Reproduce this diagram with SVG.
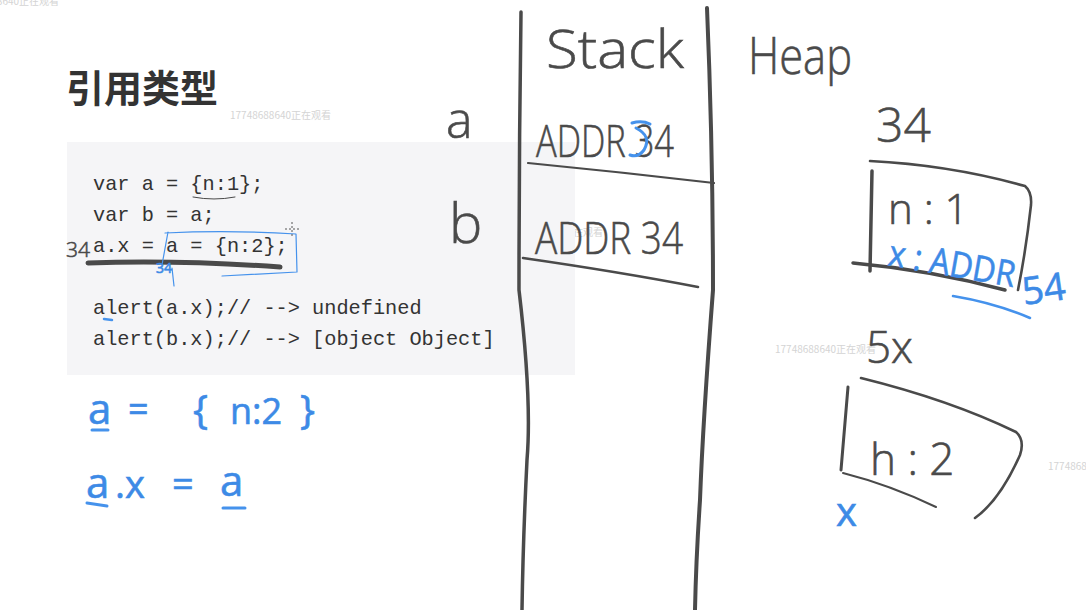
<svg xmlns="http://www.w3.org/2000/svg" width="1086" height="610" viewBox="0 0 1086 610">
<style>
.code{font-family:"Liberation Mono","DejaVu Sans Mono",monospace;font-size:20.3px;fill:#333}
.wm{font-family:"Noto Sans CJK SC","Noto Sans",sans-serif;font-size:10px;fill:#d4d4d4}
.hw{font-family:"Open Sans","Noto Sans",sans-serif;font-weight:300;fill:#4a4a4a;stroke:#4a4a4a;stroke-width:0.6}
.hb{font-family:"Open Sans","Noto Sans",sans-serif;font-weight:400;fill:#3d8ae6;stroke:#3d8ae6;stroke-width:0.6}
.ln{fill:none;stroke:#4a4a4a;stroke-linecap:round;stroke-linejoin:round}
.bl{fill:none;stroke:#4592ec;stroke-linecap:round;stroke-linejoin:round}
</style>
<rect width="1086" height="610" fill="#ffffff"/>

<g id="title">
<text x="66" y="102" font-family="Noto Sans CJK SC, sans-serif" font-size="38" font-weight="700" fill="#333">引用类型</text>
</g>

<g id="watermarks">
<text class="wm" x="-42" y="5">17748688640正在观看</text>
<text class="wm" x="230" y="119">17748688640正在观看</text>
<text class="wm" x="502" y="236">17748688640正在观看</text>
<text class="wm" x="775" y="353">17748688640正在观看</text>
<text class="wm" x="1048" y="470">17748688640正在观看</text>
</g>

<g id="code-panel">
<rect x="67" y="142" width="508" height="233" fill="#f5f5f7"/>
<text class="code" x="93" y="190">var a = {n:1};</text>
<text class="code" x="93" y="221">var b = a;</text>
<text class="code" x="93" y="252">a.x = a = {n:2};</text>
<text class="code" x="93" y="314">alert(a.x);// --&gt; undefined</text>
<text class="code" x="93" y="345">alert(b.x);// --&gt; [object Object]</text>
<path class="ln" d="M193 197 Q214 201 235 197" stroke="#888" stroke-width="1"/>
<text class="hw" x="66" y="257" font-size="21" fill="#777" stroke="#777" stroke-width="0.3">34</text>
<path class="ln" d="M88 263 Q180 260 280 267" stroke="#555" stroke-width="5"/>
<path class="bl" d="M165 233 Q230 230 296 234 L297 272 L222 276 M168 232 L162 265" stroke-width="1.2"/>
<text class="hb" x="156" y="273" font-size="14" stroke-width="0.2">34</text>
<path class="bl" d="M172 268 L174 286" stroke-width="1.2"/>
<path class="bl" d="M104 319 L112 320" stroke-width="2.5"/>
<path d="M292 222 V236 M285 229 H299" stroke="#555" stroke-width="1" stroke-dasharray="2 2"/>
</g>

<g id="stack-frame">
<path class="ln" d="M521 12 Q519 150 519 290 Q532 400 527 460 Q523 540 522 610" stroke-width="3.5"/>
<path class="ln" d="M707 8 Q713 150 713 290 Q703 420 700 500 Q696 560 695 610" stroke-width="4"/>
<path class="ln" d="M528 163 Q620 172 714 183" stroke-width="2.2"/>
<path class="ln" d="M523 258 Q620 272 698 287" stroke-width="2.6"/>
</g>

<g id="labels">
<text class="hw" x="546" y="68" font-size="54" textLength="138" lengthAdjust="spacingAndGlyphs">Stack</text>
<text class="hw" x="748" y="74" font-size="52" textLength="104" lengthAdjust="spacingAndGlyphs">Heap</text>
<text class="hw" x="446" y="138" font-size="50">a</text>
<text class="hw" x="449" y="243" font-size="56">b</text>
</g>

<g id="stack-a">
<text class="hw" x="536" y="157" font-size="44" textLength="138" lengthAdjust="spacingAndGlyphs">ADDR 34</text>
<path class="bl" d="M632 123 Q642 120 650 124 M636 128 Q652 136 644 150 Q638 158 630 155" stroke-width="3"/>
</g>

<g id="stack-b">
<text class="hw" x="535" y="254" font-size="44" textLength="148" lengthAdjust="spacingAndGlyphs">ADDR  34</text>
</g>

<g id="heap-34">
<text class="hw" x="876" y="142" font-size="48">34</text>
<path class="ln" d="M870 161 Q950 165 1025 186 Q1032 192 1031 205 Q1026 250 1018 290" stroke-width="2.6"/>
<path class="ln" d="M872 171 L870 271" stroke-width="3.5"/>
<path class="ln" d="M853 263 Q930 270 1005 290" stroke-width="3.5"/>
<text class="hw" x="888" y="224" font-size="42">n : 1</text>
<g transform="rotate(10 950 265)">
<text class="hb" x="888" y="276" font-size="36" textLength="128" lengthAdjust="spacingAndGlyphs">x : ADDR</text>
</g>
<g transform="rotate(-8 1045 290)">
<text class="hb" x="1022" y="302" font-size="38">54</text>
</g>
<path class="bl" d="M953 296 Q995 303 1030 318" stroke-width="2.5"/>
</g>

<g id="heap-54">
<text class="hw" x="866" y="363" font-size="44">5x</text>
<path class="ln" d="M861 378 Q950 400 1016 432 Q1025 440 1020 455 Q1000 500 975 518" stroke-width="2.6"/>
<path class="ln" d="M848 387 L841 470" stroke-width="3"/>
<path class="ln" d="M843 473 Q890 485 936 507" stroke-width="2"/>
<text class="hw" x="870" y="475" font-size="44">h : 2</text>
<text class="hb" x="836" y="526" font-size="40">x</text>
</g>

<g id="notes">
<text class="hb" x="88" y="424" font-size="42">a</text>
<path class="bl" d="M92 430 L108 430" stroke-width="3"/>
<text class="hb" x="128" y="422" font-size="36">=</text>
<text class="hb" x="193" y="424" font-size="40">{</text>
<text class="hb" x="230" y="424" font-size="36">n:2</text>
<text class="hb" x="300" y="424" font-size="40">}</text>
<text class="hb" x="86" y="498" font-size="42">a</text>
<text class="hb" x="115" y="498" font-size="38">.x</text>
<path class="bl" d="M87 503 L107 506" stroke-width="3"/>
<text class="hb" x="172" y="497" font-size="38">=</text>
<text class="hb" x="220" y="496" font-size="42">a</text>
<path class="bl" d="M223 508 L245 508" stroke-width="3"/>
</g>
</svg>
